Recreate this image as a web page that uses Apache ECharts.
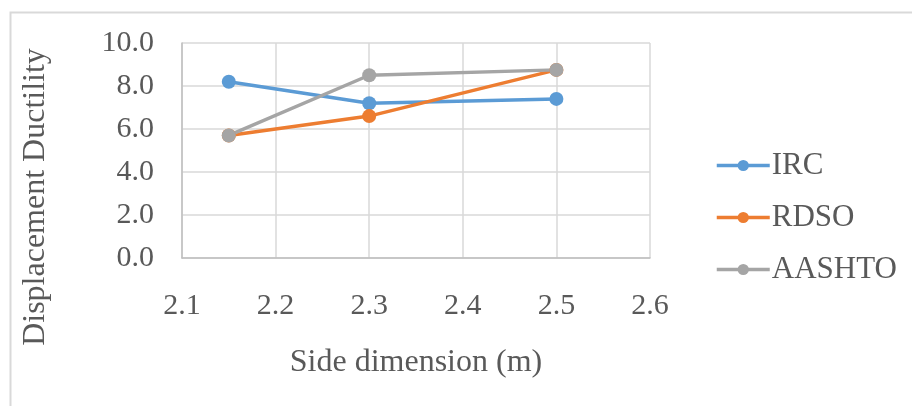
<!DOCTYPE html>
<html>
<head>
<meta charset="utf-8">
<script src="https://cdn.jsdelivr.net/npm/echarts@6/dist/echarts.min.js"></script>
<style>html,body{margin:0;padding:0;background:#fff;}#c{width:912px;height:406px;}</style>
</head>
<body>
<div id="c"></div>
<script>
var xValues = [2.15, 2.3, 2.5];
var irc = [8.2, 7.2, 7.4];
var rdso = [5.7, 6.6, 8.75];
var aashto = [5.7, 8.5, 8.75];
var seriesNames = ['IRC', 'RDSO', 'AASHTO'];
var seriesColors = ['#5b9bd5', '#ed7d31', '#a5a5a5'];
var xTitle = 'Side dimension (m)';
var yTitle = 'Displacement Ductility';

var font = '"Liberation Serif", "Times New Roman", serif';
var textColor = '#595959';
var seriesData = [irc, rdso, aashto];

function pairs(vals) { return xValues.map(function (x, i) { return [x, vals[i]]; }); }

var chart = echarts.init(document.getElementById('c'), null, { renderer: 'canvas' });
chart.setOption({
  backgroundColor: '#fff',
  animation: false,
  grid: { left: 182, right: 262, top: 43, bottom: 148 },
  xAxis: {
    type: 'value', min: 2.1, max: 2.6, interval: 0.1,
    axisLine: { show: true, lineStyle: { color: '#bfbfbf', width: 1.5 } },
    axisTick: { show: false },
    splitLine: { show: true, lineStyle: { color: '#d9d9d9', width: 1.5 } },
    axisLabel: { margin: 33, fontFamily: font, fontSize: 30, color: textColor,
      formatter: function (v) { return v.toFixed(1); } }
  },
  yAxis: {
    type: 'value', min: 0, max: 10, interval: 2,
    axisLine: { show: true, lineStyle: { color: '#bfbfbf', width: 1.5 } },
    axisTick: { show: false },
    splitLine: { show: true, lineStyle: { color: '#d9d9d9', width: 1.5 } },
    axisLabel: { margin: 28, fontFamily: font, fontSize: 30, color: textColor,
      formatter: function (v) { return v.toFixed(1); } }
  },
  legend: {
    orient: 'vertical', left: 710, top: 145,
    itemWidth: 53, itemHeight: 14, itemGap: 21,
    lineStyle: { width: 3.5 },
    textStyle: { fontFamily: font, fontSize: 31, color: textColor, padding: [0, 0, 0, -3] },
    data: seriesNames.map(function (n) { return { name: n, lineStyle: { width: 3.5 } }; })
  },
  graphic: [
    { type: 'rect', left: 8, top: 10, shape: { width: 1000, height: 500 },
      style: { fill: 'none', stroke: '#d9d9d9', lineWidth: 2 }, z: -10 },
    { type: 'text', x: 36, y: 197, rotation: Math.PI / 2,
      style: { text: yTitle, font: '32px ' + font, fill: textColor, align: 'center', verticalAlign: 'middle' } },
    { type: 'text', x: 416, y: 363,
      style: { text: xTitle, font: '32px ' + font, fill: textColor, align: 'center', verticalAlign: 'middle' } }
  ],
  series: seriesNames.map(function (n, i) {
    return {
      name: n, type: 'line', data: pairs(seriesData[i]),
      symbol: 'circle', symbolSize: 14,
      itemStyle: { color: seriesColors[i] },
      lineStyle: { color: seriesColors[i], width: 3.5 }
    };
  })
});
</script>
</body>
</html>
